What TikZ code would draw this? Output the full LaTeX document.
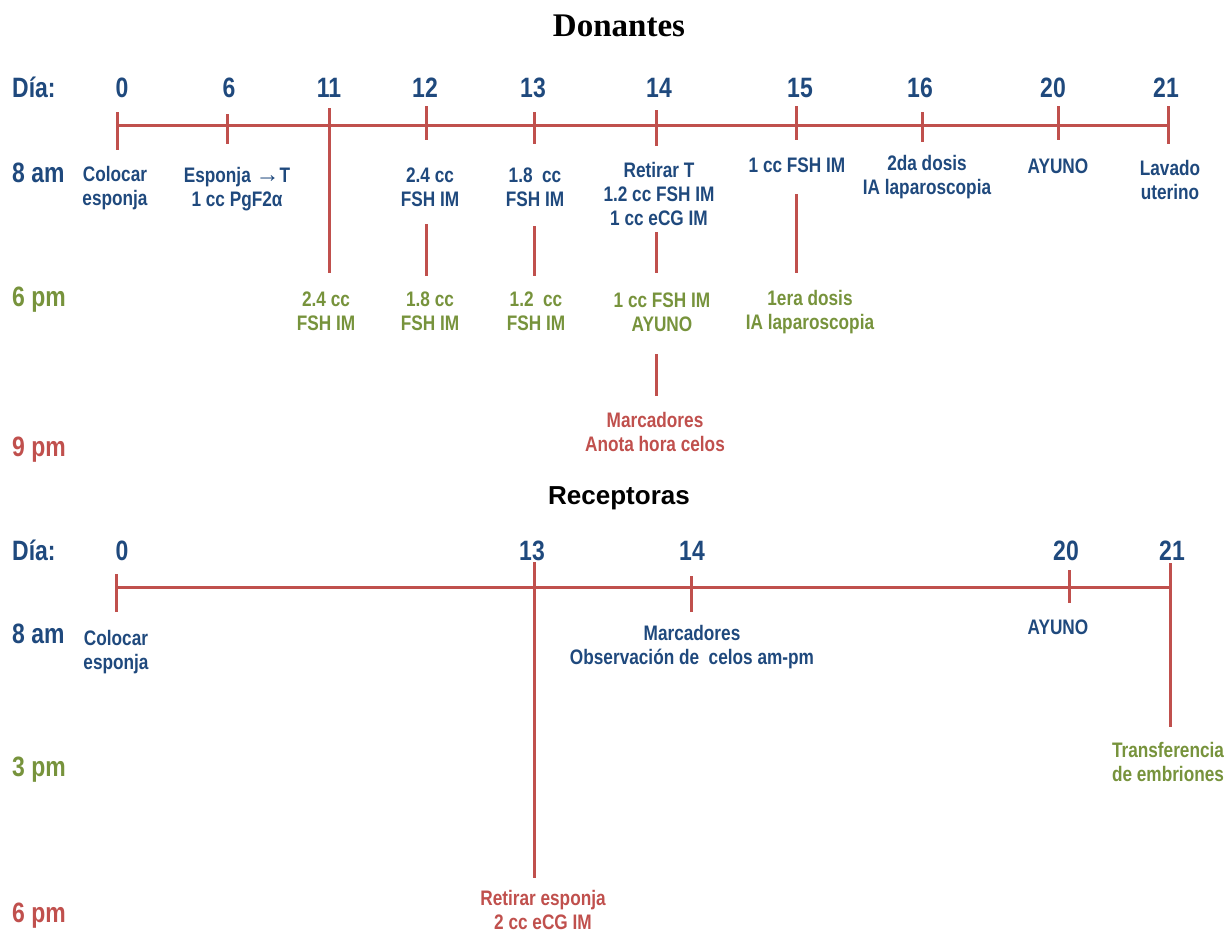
\documentclass[tikz,border=0pt]{standalone}
\usepackage{fontspec}
\setmainfont{Liberation Sans}[FakeStretch=0.82]
\newfontfamily\titlefont{Liberation Serif}
\newfontfamily\widesans{Liberation Sans}
\definecolor{dblue}{HTML}{1F497D}
\definecolor{dgreen}{HTML}{77933C}
\definecolor{dred}{HTML}{C0504D}
\begin{document}
\begin{tikzpicture}[
    x=1pt,
    y=-1pt,
    tl/.style={draw=dred, line width=3pt},
    lab/.style={anchor=north, inner sep=0pt, align=center, font=\fontsize{21}{24}\selectfont\bfseries},
    blab/.style={lab, text=dblue},
    glab/.style={lab, text=dgreen},
    rlab/.style={lab, text=dred},
    hour/.style={anchor=base west, inner sep=0pt, font=\fontsize{28}{32}\selectfont\bfseries},
    day/.style={anchor=base, inner sep=0pt, text=dblue, font=\fontsize{28}{32}\selectfont\bfseries}
]
\useasboundingbox (0,0) rectangle (1229,934);

% Donantes
\node[anchor=base, inner sep=0pt, font=\titlefont\fontsize{33}{36}\selectfont\bfseries] (don) at (619,37) {Donantes};
\node[hour, text=dblue] (dia1) at (12,97) {Día:};
\node[hour, text=dblue] (am1) at (12,182) {8 am};
\node[hour, text=dgreen] (pm1) at (12,306) {6 pm};
\node[hour, text=dred] (ev1) at (12,456) {9 pm};
\foreach \d/\x in {0/122,6/229,11/329,12/425,13/533,14/659,15/800,16/920,20/1053,21/1166}
  \node[day] (n\d) at (\x,97) {\d};

\coordinate (ls1) at (117,125);
\coordinate (le1) at (1168,125);
\draw[tl] (ls1) -- (le1);
\foreach \d/\x/\a/\b in {0/117/112/150, 6/227/114/144, 11/329/108/273, 12/426/106/140, 13/534/112/144,
    14/656/110/146, 15/796/106/140, 16/922/112/142, 20/1058/106/140, 21/1168/106/144} {
  \coordinate (ta\d) at (\x,\a);
  \coordinate (tb\d) at (\x,\b);
  \draw[tl] (ta\d) -- (tb\d);
}
\foreach \x/\a/\b [count=\i] in {426/224/276, 534/226/276, 656/232/273, 796/194/273, 656/354/396} {
  \coordinate (da\i) at (\x,\a);
  \coordinate (db\i) at (\x,\b);
  \draw[tl] (da\i) -- (db\i);
}

\node[blab] (c0) at (115,166) {Colocar\\esponja};
\node[blab] (c6) at (237,167) {Esponja {\titlefont\mdseries\fontsize{24}{24}\selectfont →}T\\1 cc PgF2α};
\node[blab] (c12) at (430,168) {2.4 cc\\FSH IM};
\node[blab] (c13) at (535,168) {1.8~ cc\\FSH IM};
\node[blab] (c14) at (659,162) {Retirar T\\1.2 cc FSH IM\\1 cc eCG IM};
\node[blab] (c15) at (797,158) {1 cc FSH IM};
\node[blab] (c16) at (927,155) {2da dosis\\IA laparoscopia};
\node[blab] (c20) at (1058,159) {AYUNO};
\node[blab] (c21) at (1170,160) {Lavado\\uterino};

\node[glab] (p11) at (326,292) {2.4 cc\\FSH IM};
\node[glab] (p12) at (430,292) {1.8 cc\\FSH IM};
\node[glab] (p13) at (536,292) {1.2~ cc\\FSH IM};
\node[glab] (p14) at (662,293) {1 cc FSH IM\\AYUNO};
\node[glab] (p15) at (810,290) {1era dosis\\IA laparoscopia};
\node[rlab] (e14) at (655,412) {Marcadores\\Anota hora celos};

% Receptoras
\node[anchor=base, inner sep=0pt, font=\widesans\fontsize{26}{30}\selectfont\bfseries] (rec) at (619,504) {Receptoras};
\node[hour, text=dblue] (dia2) at (12,560) {Día:};
\node[hour, text=dblue] (am2) at (12,643) {8 am};
\node[hour, text=dgreen] (pm2) at (12,776) {3 pm};
\node[hour, text=dred] (ev2) at (12,922) {6 pm};
\foreach \d/\x in {0/122,13/532,14/692,20/1066,21/1172}
  \node[day] (m\d) at (\x,560) {\d};

\coordinate (ls2) at (116,587);
\coordinate (le2) at (1170,587);
\draw[tl] (ls2) -- (le2);
\foreach \d/\x/\a/\b in {0/116/574/612, 13/534/562/878, 14/691/576/612, 20/1069/570/603, 21/1170/563/727} {
  \coordinate (ra\d) at (\x,\a);
  \coordinate (rb\d) at (\x,\b);
  \draw[tl] (ra\d) -- (rb\d);
}

\node[blab] (r0) at (116,630) {Colocar\\esponja};
\node[blab] (r14) at (692,625) {Marcadores\\Observación de~ celos am-pm};
\node[blab] (r20) at (1058,620) {AYUNO};
\node[glab] (r21) at (1168,742) {Transferencia\\de embriones};
\node[rlab] (r13) at (543,890) {Retirar esponja\\2 cc eCG IM};
\end{tikzpicture}
\end{document}
